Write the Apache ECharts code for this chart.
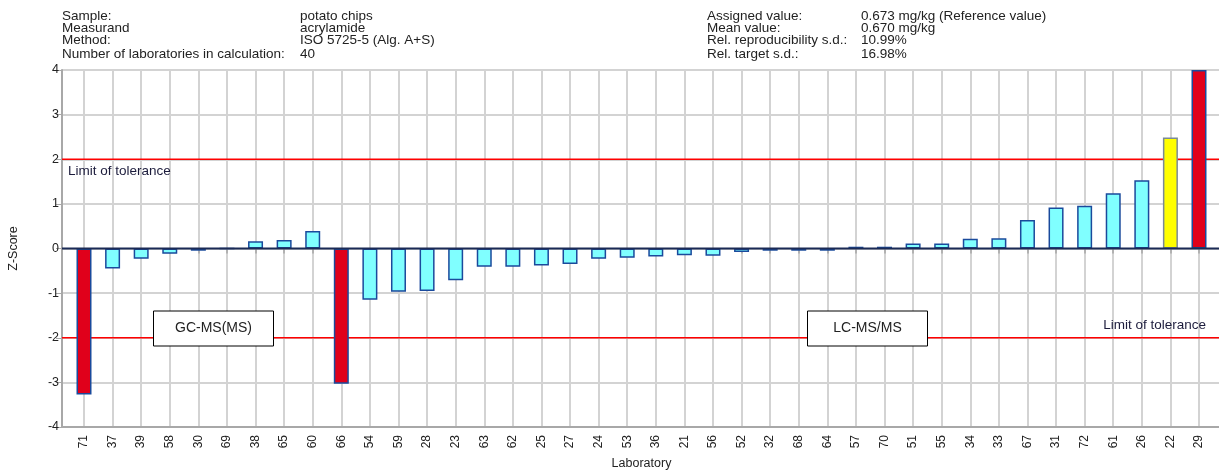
<!DOCTYPE html>
<html>
<head>
<meta charset="utf-8">
<script src="https://cdn.jsdelivr.net/npm/echarts@6/dist/echarts.min.js"></script>
<style>
html,body{margin:0;padding:0;background:#fff;}
#chart{width:1219px;height:470px;}
</style>
</head>
<body>
<div id="chart"></div>
<script>
const laboratories = ['71','37','39','58','30','69','38','65','60','66','54','59','28','23','63','62','25','27','24','53','36','21','56','52','32','68','64','57','70','51','55','34','33','67','31','72','61','26','22','29'];
const zScores = [-3.27,-0.45,-0.23,-0.12,-0.05,0,0.16,0.19,0.39,-3.03,-1.15,-0.97,-0.95,-0.71,-0.41,-0.41,-0.38,-0.35,-0.23,-0.21,-0.18,-0.15,-0.16,-0.08,-0.05,-0.05,-0.05,0.04,0.04,0.11,0.11,0.22,0.23,0.64,0.92,0.96,1.24,1.53,2.49,4.0];
const yTicks = [-4,-3,-2,-1,0,1,2,3,4];
const toleranceLimits = [2, -2];
const headerLeftLabels = ['Sample:', 'Measurand', 'Method:', 'Number of laboratories in calculation:'];
const headerLeftValues = ['potato chips', 'acrylamide', 'ISO 5725-5 (Alg. A+S)', '40'];
const headerRightLabels = ['Assigned value:', 'Mean value:', 'Rel. reproducibility s.d.:', 'Rel. target s.d.:'];
const headerRightValues = ['0.673 mg/kg (Reference value)', '0.670 mg/kg', '10.99%', '16.98%'];

const FONT = '"Liberation Sans", Arial, sans-serif';
const TXT = '#222';

function barColor(v) {
  const a = Math.abs(v);
  if (a > 3) return '#e0001b';
  if (a > 2) return '#ffff00';
  return '#80ffff';
}

const chart = echarts.init(document.getElementById('chart'), null, {renderer: 'canvas'});

const headerY = [16, 28, 40.5, 54];
const graphics = [];
function addText(x, y, text, opts) {
  graphics.push(Object.assign({
    type: 'text', x: x, y: y, z: 100,
    style: Object.assign({text: text, font: '13.5px ' + FONT, fill: TXT, textVerticalAlign: 'middle', textAlign: 'left'}, opts || {})
  }));
}
headerLeftLabels.forEach((t, i) => addText(62, headerY[i], t));
headerLeftValues.forEach((t, i) => addText(300, headerY[i], t));
headerRightLabels.forEach((t, i) => addText(707, headerY[i], t));
headerRightValues.forEach((t, i) => addText(861, headerY[i], t));

addText(68, 171.5, 'Limit of tolerance', {fill: '#1c1c3c'});
addText(1206, 325.5, 'Limit of tolerance', {fill: '#1c1c3c', textAlign: 'right'});

function addBox(x, y, w, h, text) {
  graphics.push({type: 'rect', z: 90, shape: {x: x, y: y, width: w, height: h},
    style: {fill: '#fff', stroke: '#000', lineWidth: 1}});
  addText(x + w / 2, y + h / 2, text, {textAlign: 'center', font: '14px ' + FONT});
}
addBox(153.5, 311, 120, 35, 'GC-MS(MS)');
addBox(807.5, 311, 120, 35, 'LC-MS/MS');

const limitSeries = toleranceLimits.map(l => ({
  type: 'line', xAxisIndex: 1, yAxisIndex: 1, z: 1, silent: true, animation: false,
  showSymbol: false, symbol: 'none',
  lineStyle: {color: '#ff0000', width: 1.3},
  data: [[0, l], [1, l]]
}));

const option = {
  animation: false,
  backgroundColor: '#fff',
  grid: [
    {left: 84, right: 20, top: 70, bottom: 43, outerBoundsMode: 'none', containLabel: false},
    {left: 62, right: 0, top: 70, bottom: 43, outerBoundsMode: 'none', containLabel: false}
  ],
  xAxis: [
    {
      gridIndex: 0, type: 'category', data: laboratories, boundaryGap: false,
      axisLine: {show: false},
      axisTick: {show: true, length: 5, lineStyle: {color: '#a8a8a8', width: 1.5}},
      splitLine: {show: true, lineStyle: {color: '#d3d3d3', width: 2}},
      axisLabel: {interval: 0, rotate: 90, fontSize: 12, fontFamily: FONT, color: TXT, margin: 8},
      name: 'Laboratory', nameLocation: 'middle', nameGap: 30,
      nameTextStyle: {fontSize: 12.5, fontFamily: FONT, color: TXT}
    },
    {
      gridIndex: 1, type: 'value', min: 0, max: 1,
      axisLine: {show: true, onZero: false, lineStyle: {color: '#a8a8a8', width: 2}},
      axisTick: {show: false}, axisLabel: {show: false}, splitLine: {show: false}
    }
  ],
  yAxis: [
    {gridIndex: 0, type: 'value', min: -4, max: 4, show: false},
    {
      gridIndex: 1, type: 'value', min: -4, max: 4, interval: 1,
      axisLine: {show: true, lineStyle: {color: '#a8a8a8', width: 2}},
      axisTick: {show: true, length: 6, lineStyle: {color: '#a8a8a8', width: 1}},
      splitLine: {show: true, lineStyle: {color: '#d3d3d3', width: 2}},
      axisLabel: {fontSize: 12.5, fontFamily: FONT, color: TXT, margin: 3,
        customValues: yTicks},
      name: 'Z-Score', nameLocation: 'middle', nameGap: 42, nameRotate: 90,
      nameTextStyle: {fontSize: 12.5, fontFamily: FONT, color: TXT}
    }
  ],
  series: [
    {
      type: 'bar', xAxisIndex: 0, yAxisIndex: 0, z: 2, clip: false,
      barWidth: 15,
      data: zScores.map(v => ({
        value: v,
        itemStyle: {color: barColor(v), borderColor: Math.abs(v) > 2 && Math.abs(v) <= 3 ? '#7b8a96' : '#1a4a9c', borderWidth: 1.5}
      }))
    },
    ...limitSeries,
    {
      type: 'line', xAxisIndex: 1, yAxisIndex: 1, z: 3, silent: true, animation: false,
      showSymbol: false, symbol: 'none',
      lineStyle: {color: '#1b2a55', width: 2},
      data: [[0, 0], [1, 0]]
    }
  ],
  graphic: graphics
};
chart.setOption(option);
</script>
</body>
</html>
